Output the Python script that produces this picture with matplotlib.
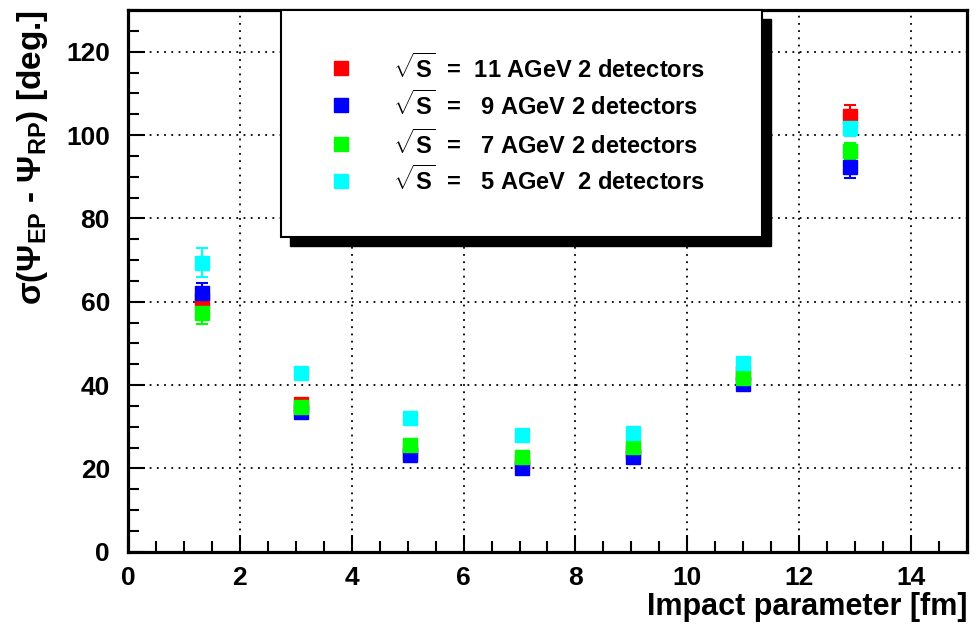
import matplotlib
matplotlib.use("Agg")
import matplotlib.pyplot as plt
from matplotlib.patches import Rectangle
from matplotlib.ticker import MultipleLocator

plt.rcParams['font.family'] = ['Liberation Sans', 'DejaVu Sans']
plt.rcParams['font.weight'] = 'bold'
plt.rcParams['mathtext.fontset'] = 'custom'
plt.rcParams['mathtext.rm'] = 'Liberation Sans:bold'
plt.rcParams['mathtext.it'] = 'Liberation Sans:bold'
plt.rcParams['mathtext.bf'] = 'Liberation Sans:bold'
plt.rcParams['mathtext.sf'] = 'Liberation Sans:bold'

# Data
impact = [1.33, 3.1, 5.05, 7.05, 9.02, 11.0, 12.9]
sig_11 = [60.5, 35.5, 24.0, 21.5, 24.0, 43.0, 104.5]
err_11 = [2.5, 1.0, 0.8, 0.8, 0.8, 1.0, 2.6]
sig_9 = [62.0, 33.5, 23.2, 20.2, 22.8, 40.2, 92.3]
err_9 = [2.5, 1.0, 0.8, 0.8, 0.8, 1.0, 2.5]
sig_7 = [57.3, 34.7, 25.6, 22.8, 25.2, 41.6, 96.2]
err_7 = [2.7, 1.0, 0.8, 0.8, 0.8, 1.0, 2.0]
sig_5 = [69.4, 43.0, 32.2, 28.0, 28.4, 45.4, 101.7]
err_5 = [3.5, 1.2, 1.0, 1.0, 1.0, 1.2, 2.0]

series = [
    (sig_11, err_11, '#ff0000', r'$\sqrt{\mathbf{S}}$  =  11 AGeV 2 detectors'),
    (sig_9, err_9, '#0000ff', r'$\sqrt{\mathbf{S}}$  =   9 AGeV 2 detectors'),
    (sig_7, err_7, '#00ff00', r'$\sqrt{\mathbf{S}}$  =   7 AGeV 2 detectors'),
    (sig_5, err_5, '#00ffff', r'$\sqrt{\mathbf{S}}$  =   5 AGeV  2 detectors'),
]

fig = plt.figure(figsize=(9.76, 6.28), dpi=100)
ax = fig.add_axes([0.1311, 0.1215, 0.8597, 0.8625])

for vals, errs, col, lab in series:
    ax.errorbar(impact, vals, yerr=errs, fmt='s', color=col, ms=10,
                mec=col, ecolor=col, elinewidth=1.5, capsize=4, capthick=1.5,
                zorder=3)

ax.set_xlim(0, 15)
ax.set_ylim(0, 130)
ax.xaxis.set_major_locator(MultipleLocator(2))
ax.xaxis.set_minor_locator(MultipleLocator(0.5))
ax.yaxis.set_major_locator(MultipleLocator(20))
ax.yaxis.set_minor_locator(MultipleLocator(5))

ax.grid(True, which='major', color='black', linestyle=(0, (1, 3)), linewidth=1.3)
ax.tick_params(which='both', direction='in', top=False, right=False, width=1.5)
ax.tick_params(which='major', length=12, labelsize=19)
ax.tick_params(axis='x', which='major', pad=10)
ax.tick_params(axis='y', which='major', pad=13)
ax.tick_params(which='minor', length=8)
for sp in ax.spines.values():
    sp.set_linewidth(2.3)
for lbl in ax.get_xticklabels() + ax.get_yticklabels():
    lbl.set_fontweight('bold')

ax.set_xlabel('Impact parameter [fm]', fontsize=22, fontweight='bold', loc='right', labelpad=2)
ax.set_ylabel(r'$\sigma(\Psi_{EP}$ - $\Psi_{RP})$ [deg.]', fontsize=24, fontweight='bold', loc='top')
ax.yaxis.set_label_coords(-0.093, 1.0)

# Legend box with shadow
bx0, bx1 = 0.1824, 0.7557
by0, by1 = 0.581, 1.0
dx, dy = 9 / 839, 9 / 541.7
ax.add_patch(Rectangle((bx0 + dx, by0 - dy), bx1 - bx0, by1 - by0, transform=ax.transAxes,
                       facecolor='black', edgecolor='black', zorder=5, clip_on=False))
ax.add_patch(Rectangle((bx0, by0), bx1 - bx0, by1 - by0, transform=ax.transAxes,
                       facecolor='white', edgecolor='black', linewidth=1.5, zorder=6, clip_on=False))
rows = [0.893, 0.824, 0.752, 0.685]
for (vals, errs, col, lab), yy in zip(series, rows):
    ax.plot([0.254], [yy], 's', color=col, ms=10, transform=ax.transAxes, zorder=7, clip_on=False)
    ax.text(0.316, yy, lab, transform=ax.transAxes, fontsize=17, fontweight='bold',
            ha='left', va='center', zorder=7)

fig.savefig('out.png', dpi=100)
